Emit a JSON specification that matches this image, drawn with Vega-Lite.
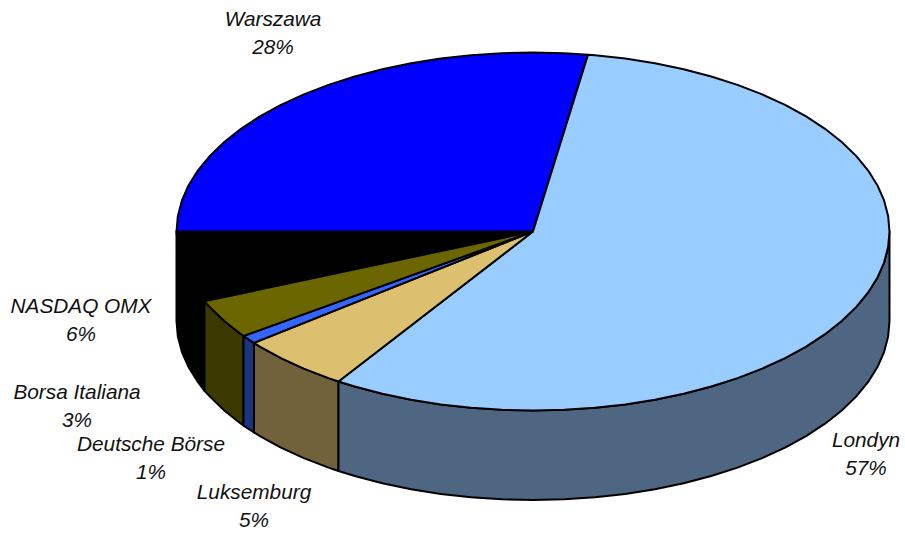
{"$schema":"https://vega.github.io/schema/vega-lite/v6.json","width":905,"height":534,"padding":0,"autosize":{"type":"fit","contains":"padding"},"background":"white","config":{"view":{"stroke":null}},
"datasets":{
"labels":[
{"name":"Warszawa","share":0.28,"x":-0.7293,"y":1.1034},
{"name":"Londyn","share":0.57,"x":0.9341,"y":-1.2458},
{"name":"Luksemburg","share":0.05,"x":-0.7826,"y":-1.5335},
{"name":"Deutsche Börse","share":0.01,"x":-1.0715,"y":-1.2654},
{"name":"Borsa Italiana","share":0.03,"x":-1.2791,"y":-0.9804},
{"name":"NASDAQ OMX","share":0.06,"x":-1.2679,"y":-0.4972}],
"walls":[
{"p":"NASDAQ OMX bok","o":0,"x":-1,"y":0},{"p":"NASDAQ OMX bok","o":1,"x":-0.9962,"y":-0.0872},{"p":"NASDAQ OMX bok","o":2,"x":-0.9848,"y":-0.1736},{"p":"NASDAQ OMX bok","o":3,"x":-0.9659,"y":-0.2588},{"p":"NASDAQ OMX bok","o":4,"x":-0.9397,"y":-0.342},{"p":"NASDAQ OMX bok","o":5,"x":-0.9215,"y":-0.39},{"p":"NASDAQ OMX bok","o":6,"x":-0.9215,"y":-0.89},{"p":"NASDAQ OMX bok","o":7,"x":-0.9397,"y":-0.842},{"p":"NASDAQ OMX bok","o":8,"x":-0.9659,"y":-0.7588},{"p":"NASDAQ OMX bok","o":9,"x":-0.9848,"y":-0.6736},{"p":"NASDAQ OMX bok","o":10,"x":-0.9962,"y":-0.5872},{"p":"NASDAQ OMX bok","o":11,"x":-1,"y":-0.5},{"p":"NASDAQ OMX bok","o":12,"x":-1,"y":0},
{"p":"Borsa Italiana bok","o":0,"x":-0.9215,"y":-0.39},{"p":"Borsa Italiana bok","o":1,"x":-0.9063,"y":-0.4226},{"p":"Borsa Italiana bok","o":2,"x":-0.866,"y":-0.5},{"p":"Borsa Italiana bok","o":3,"x":-0.8192,"y":-0.5736},{"p":"Borsa Italiana bok","o":4,"x":-0.812,"y":-0.584},{"p":"Borsa Italiana bok","o":5,"x":-0.812,"y":-1.084},{"p":"Borsa Italiana bok","o":6,"x":-0.8192,"y":-1.0736},{"p":"Borsa Italiana bok","o":7,"x":-0.866,"y":-1},{"p":"Borsa Italiana bok","o":8,"x":-0.9063,"y":-0.9226},{"p":"Borsa Italiana bok","o":9,"x":-0.9215,"y":-0.89},{"p":"Borsa Italiana bok","o":10,"x":-0.9215,"y":-0.39},
{"p":"Deutsche Börse bok","o":0,"x":-0.812,"y":-0.584},{"p":"Deutsche Börse bok","o":1,"x":-0.7826,"y":-0.6225},{"p":"Deutsche Börse bok","o":2,"x":-0.7826,"y":-1.1225},{"p":"Deutsche Börse bok","o":3,"x":-0.812,"y":-1.084},{"p":"Deutsche Börse bok","o":4,"x":-0.812,"y":-0.584},
{"p":"Luksemburg bok","o":0,"x":-0.7826,"y":-0.6225},{"p":"Luksemburg bok","o":1,"x":-0.766,"y":-0.6428},{"p":"Luksemburg bok","o":2,"x":-0.7071,"y":-0.7071},{"p":"Luksemburg bok","o":3,"x":-0.6428,"y":-0.766},{"p":"Luksemburg bok","o":4,"x":-0.5736,"y":-0.8192},{"p":"Luksemburg bok","o":5,"x":-0.5456,"y":-0.838},{"p":"Luksemburg bok","o":6,"x":-0.5456,"y":-1.338},{"p":"Luksemburg bok","o":7,"x":-0.5736,"y":-1.3192},{"p":"Luksemburg bok","o":8,"x":-0.6428,"y":-1.266},{"p":"Luksemburg bok","o":9,"x":-0.7071,"y":-1.2071},{"p":"Luksemburg bok","o":10,"x":-0.766,"y":-1.1428},{"p":"Luksemburg bok","o":11,"x":-0.7826,"y":-1.1225},{"p":"Luksemburg bok","o":12,"x":-0.7826,"y":-0.6225},
{"p":"Londyn bok","o":0,"x":-0.5456,"y":-0.838},{"p":"Londyn bok","o":1,"x":-0.5,"y":-0.866},{"p":"Londyn bok","o":2,"x":-0.4226,"y":-0.9063},{"p":"Londyn bok","o":3,"x":-0.342,"y":-0.9397},{"p":"Londyn bok","o":4,"x":-0.2588,"y":-0.9659},{"p":"Londyn bok","o":5,"x":-0.1736,"y":-0.9848},{"p":"Londyn bok","o":6,"x":-0.0872,"y":-0.9962},{"p":"Londyn bok","o":7,"x":0,"y":-1},{"p":"Londyn bok","o":8,"x":0.0872,"y":-0.9962},{"p":"Londyn bok","o":9,"x":0.1736,"y":-0.9848},{"p":"Londyn bok","o":10,"x":0.2588,"y":-0.9659},{"p":"Londyn bok","o":11,"x":0.342,"y":-0.9397},{"p":"Londyn bok","o":12,"x":0.4226,"y":-0.9063},{"p":"Londyn bok","o":13,"x":0.5,"y":-0.866},{"p":"Londyn bok","o":14,"x":0.5736,"y":-0.8192},{"p":"Londyn bok","o":15,"x":0.6428,"y":-0.766},{"p":"Londyn bok","o":16,"x":0.7071,"y":-0.7071},{"p":"Londyn bok","o":17,"x":0.766,"y":-0.6428},{"p":"Londyn bok","o":18,"x":0.8192,"y":-0.5736},{"p":"Londyn bok","o":19,"x":0.866,"y":-0.5},{"p":"Londyn bok","o":20,"x":0.9063,"y":-0.4226},{"p":"Londyn bok","o":21,"x":0.9397,"y":-0.342},{"p":"Londyn bok","o":22,"x":0.9659,"y":-0.2588},{"p":"Londyn bok","o":23,"x":0.9848,"y":-0.1736},{"p":"Londyn bok","o":24,"x":0.9962,"y":-0.0872},{"p":"Londyn bok","o":25,"x":1,"y":0},
{"p":"Londyn bok","o":26,"x":1,"y":-0.5},{"p":"Londyn bok","o":27,"x":0.9962,"y":-0.5872},{"p":"Londyn bok","o":28,"x":0.9848,"y":-0.6736},{"p":"Londyn bok","o":29,"x":0.9659,"y":-0.7588},{"p":"Londyn bok","o":30,"x":0.9397,"y":-0.842},{"p":"Londyn bok","o":31,"x":0.9063,"y":-0.9226},{"p":"Londyn bok","o":32,"x":0.866,"y":-1},{"p":"Londyn bok","o":33,"x":0.8192,"y":-1.0736},{"p":"Londyn bok","o":34,"x":0.766,"y":-1.1428},{"p":"Londyn bok","o":35,"x":0.7071,"y":-1.2071},{"p":"Londyn bok","o":36,"x":0.6428,"y":-1.266},{"p":"Londyn bok","o":37,"x":0.5736,"y":-1.3192},{"p":"Londyn bok","o":38,"x":0.5,"y":-1.366},{"p":"Londyn bok","o":39,"x":0.4226,"y":-1.4063},{"p":"Londyn bok","o":40,"x":0.342,"y":-1.4397},{"p":"Londyn bok","o":41,"x":0.2588,"y":-1.4659},{"p":"Londyn bok","o":42,"x":0.1736,"y":-1.4848},{"p":"Londyn bok","o":43,"x":0.0872,"y":-1.4962},{"p":"Londyn bok","o":44,"x":0,"y":-1.5},{"p":"Londyn bok","o":45,"x":-0.0872,"y":-1.4962},{"p":"Londyn bok","o":46,"x":-0.1736,"y":-1.4848},{"p":"Londyn bok","o":47,"x":-0.2588,"y":-1.4659},{"p":"Londyn bok","o":48,"x":-0.342,"y":-1.4397},{"p":"Londyn bok","o":49,"x":-0.4226,"y":-1.4063},{"p":"Londyn bok","o":50,"x":-0.5,"y":-1.366},{"p":"Londyn bok","o":51,"x":-0.5456,"y":-1.338},{"p":"Londyn bok","o":52,"x":-0.5456,"y":-0.838}],
"tops":[
{"p":"NASDAQ OMX","o":0,"x":0,"y":0},{"p":"NASDAQ OMX","o":1,"x":-0.9215,"y":-0.39},{"p":"NASDAQ OMX","o":2,"x":-0.9397,"y":-0.342},{"p":"NASDAQ OMX","o":3,"x":-0.9659,"y":-0.2588},{"p":"NASDAQ OMX","o":4,"x":-0.9848,"y":-0.1736},{"p":"NASDAQ OMX","o":5,"x":-0.9962,"y":-0.0872},{"p":"NASDAQ OMX","o":6,"x":-1,"y":0},{"p":"NASDAQ OMX","o":7,"x":0,"y":0},
{"p":"Warszawa","o":0,"x":0,"y":0},{"p":"Warszawa","o":1,"x":-1,"y":0},{"p":"Warszawa","o":2,"x":-0.9962,"y":0.0872},{"p":"Warszawa","o":3,"x":-0.9848,"y":0.1736},{"p":"Warszawa","o":4,"x":-0.9659,"y":0.2588},{"p":"Warszawa","o":5,"x":-0.9397,"y":0.342},{"p":"Warszawa","o":6,"x":-0.9063,"y":0.4226},{"p":"Warszawa","o":7,"x":-0.866,"y":0.5},{"p":"Warszawa","o":8,"x":-0.8192,"y":0.5736},{"p":"Warszawa","o":9,"x":-0.766,"y":0.6428},{"p":"Warszawa","o":10,"x":-0.7071,"y":0.7071},{"p":"Warszawa","o":11,"x":-0.6428,"y":0.766},{"p":"Warszawa","o":12,"x":-0.5736,"y":0.8192},{"p":"Warszawa","o":13,"x":-0.5,"y":0.866},{"p":"Warszawa","o":14,"x":-0.4226,"y":0.9063},{"p":"Warszawa","o":15,"x":-0.342,"y":0.9397},{"p":"Warszawa","o":16,"x":-0.2588,"y":0.9659},{"p":"Warszawa","o":17,"x":-0.1736,"y":0.9848},{"p":"Warszawa","o":18,"x":-0.0872,"y":0.9962},{"p":"Warszawa","o":19,"x":0,"y":1},{"p":"Warszawa","o":20,"x":0.0872,"y":0.9962},{"p":"Warszawa","o":21,"x":0.1543,"y":0.988},{"p":"Warszawa","o":22,"x":0,"y":0},
{"p":"Londyn","o":0,"x":0,"y":0},{"p":"Londyn","o":1,"x":0.1543,"y":0.988},{"p":"Londyn","o":2,"x":0.1736,"y":0.9848},{"p":"Londyn","o":3,"x":0.2588,"y":0.9659},{"p":"Londyn","o":4,"x":0.342,"y":0.9397},{"p":"Londyn","o":5,"x":0.4226,"y":0.9063},{"p":"Londyn","o":6,"x":0.5,"y":0.866},{"p":"Londyn","o":7,"x":0.5736,"y":0.8192},{"p":"Londyn","o":8,"x":0.6428,"y":0.766},{"p":"Londyn","o":9,"x":0.7071,"y":0.7071},{"p":"Londyn","o":10,"x":0.766,"y":0.6428},{"p":"Londyn","o":11,"x":0.8192,"y":0.5736},{"p":"Londyn","o":12,"x":0.866,"y":0.5},{"p":"Londyn","o":13,"x":0.9063,"y":0.4226},{"p":"Londyn","o":14,"x":0.9397,"y":0.342},{"p":"Londyn","o":15,"x":0.9659,"y":0.2588},{"p":"Londyn","o":16,"x":0.9848,"y":0.1736},{"p":"Londyn","o":17,"x":0.9962,"y":0.0872},{"p":"Londyn","o":18,"x":1,"y":0},{"p":"Londyn","o":19,"x":0.9962,"y":-0.0872},{"p":"Londyn","o":20,"x":0.9848,"y":-0.1736},{"p":"Londyn","o":21,"x":0.9659,"y":-0.2588},{"p":"Londyn","o":22,"x":0.9397,"y":-0.342},{"p":"Londyn","o":23,"x":0.9063,"y":-0.4226},{"p":"Londyn","o":24,"x":0.866,"y":-0.5},{"p":"Londyn","o":25,"x":0.8192,"y":-0.5736},{"p":"Londyn","o":26,"x":0.766,"y":-0.6428},{"p":"Londyn","o":27,"x":0.7071,"y":-0.7071},{"p":"Londyn","o":28,"x":0.6428,"y":-0.766},{"p":"Londyn","o":29,"x":0.5736,"y":-0.8192},{"p":"Londyn","o":30,"x":0.5,"y":-0.866},{"p":"Londyn","o":31,"x":0.4226,"y":-0.9063},{"p":"Londyn","o":32,"x":0.342,"y":-0.9397},{"p":"Londyn","o":33,"x":0.2588,"y":-0.9659},{"p":"Londyn","o":34,"x":0.1736,"y":-0.9848},{"p":"Londyn","o":35,"x":0.0872,"y":-0.9962},{"p":"Londyn","o":36,"x":0,"y":-1},{"p":"Londyn","o":37,"x":-0.0872,"y":-0.9962},{"p":"Londyn","o":38,"x":-0.1736,"y":-0.9848},{"p":"Londyn","o":39,"x":-0.2588,"y":-0.9659},{"p":"Londyn","o":40,"x":-0.342,"y":-0.9397},{"p":"Londyn","o":41,"x":-0.4226,"y":-0.9063},{"p":"Londyn","o":42,"x":-0.5,"y":-0.866},{"p":"Londyn","o":43,"x":-0.5456,"y":-0.838},{"p":"Londyn","o":44,"x":0,"y":0},
{"p":"Luksemburg","o":0,"x":0,"y":0},{"p":"Luksemburg","o":1,"x":-0.5456,"y":-0.838},{"p":"Luksemburg","o":2,"x":-0.5736,"y":-0.8192},{"p":"Luksemburg","o":3,"x":-0.6428,"y":-0.766},{"p":"Luksemburg","o":4,"x":-0.7071,"y":-0.7071},{"p":"Luksemburg","o":5,"x":-0.766,"y":-0.6428},{"p":"Luksemburg","o":6,"x":-0.7826,"y":-0.6225},{"p":"Luksemburg","o":7,"x":0,"y":0},
{"p":"Deutsche Börse","o":0,"x":0,"y":0},{"p":"Deutsche Börse","o":1,"x":-0.7826,"y":-0.6225},{"p":"Deutsche Börse","o":2,"x":-0.812,"y":-0.584},{"p":"Deutsche Börse","o":3,"x":0,"y":0},
{"p":"Borsa Italiana","o":0,"x":0,"y":0},{"p":"Borsa Italiana","o":1,"x":-0.812,"y":-0.584},{"p":"Borsa Italiana","o":2,"x":-0.8192,"y":-0.5736},{"p":"Borsa Italiana","o":3,"x":-0.866,"y":-0.5},{"p":"Borsa Italiana","o":4,"x":-0.9063,"y":-0.4226},{"p":"Borsa Italiana","o":5,"x":-0.9215,"y":-0.39},{"p":"Borsa Italiana","o":6,"x":0,"y":0}]
},
"encoding":{
"x":{"field":"x","type":"quantitative","axis":null,"scale":{"domain":[-1.4951,1.0435],"nice":false,"zero":false}},
"y":{"field":"y","type":"quantitative","axis":null,"scale":{"domain":[-1.6899,1.2933],"nice":false,"zero":false}}
},
"layer":[
{"data":{"name":"walls"},"mark":{"type":"line","stroke":"black","strokeWidth":2,"strokeJoin":"round","interpolate":"linear"},
"encoding":{"order":{"field":"o","type":"quantitative"},"detail":{"field":"p"},"fill":{"field":"p","type":"nominal","legend":null,"scale":{"domain":["Warszawa","Londyn","Luksemburg","Deutsche Börse","Borsa Italiana","NASDAQ OMX","Londyn bok","Luksemburg bok","Deutsche Börse bok","Borsa Italiana bok","NASDAQ OMX bok"],"range":["#0000ff","#99ccff","#dcc070","#3366ff","#6b6600","#000000","#4f6683","#71623c","#1c337f","#3c3900","#000000"]}}}},
{"data":{"name":"tops"},"mark":{"type":"line","stroke":"black","strokeWidth":2,"strokeJoin":"round","interpolate":"linear"},
"encoding":{"order":{"field":"o","type":"quantitative"},"detail":{"field":"p"},"fill":{"field":"p","type":"nominal","legend":null}}},
{"data":{"name":"labels"},"mark":{"type":"text","font":"Liberation Sans","fontStyle":"italic","fontSize":20.8,"color":"#111111","dy":-13.5},"encoding":{"text":{"field":"name"}}},
{"data":{"name":"labels"},"mark":{"type":"text","font":"Liberation Sans","fontStyle":"italic","fontSize":20.8,"color":"#111111","dy":14.5},"encoding":{"text":{"field":"share","type":"quantitative","format":".0%"}}}
]}
